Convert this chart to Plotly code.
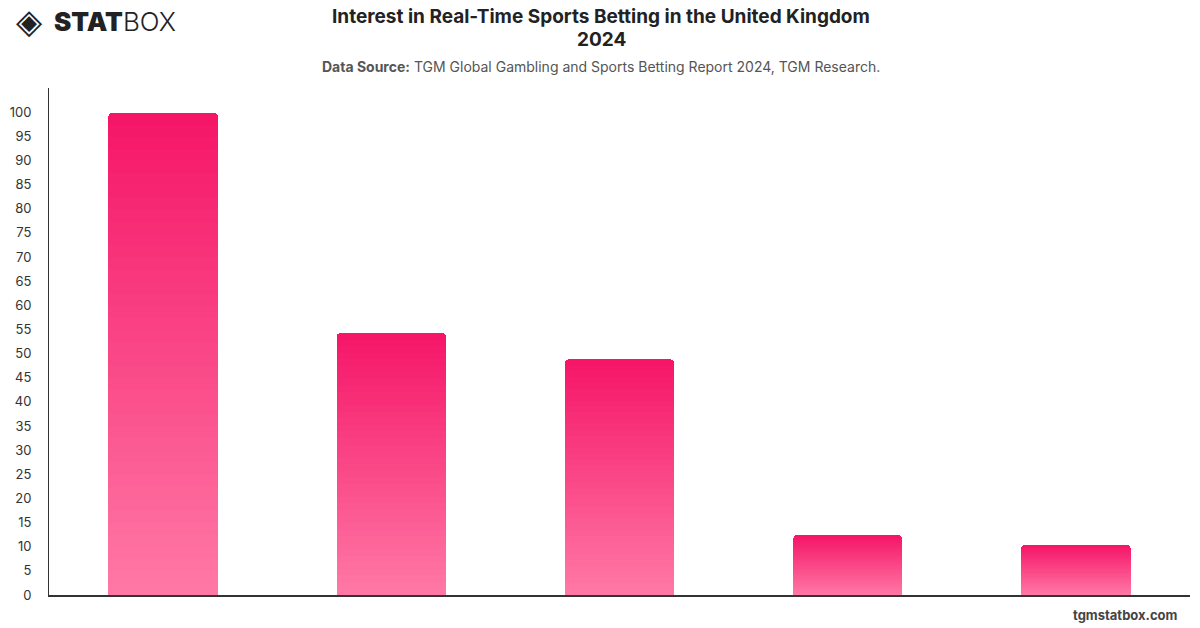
import plotly.graph_objects as go

# ---- data ----
categories = ["Group 1", "Group 2", "Group 3", "Group 4", "Group 5"]
values = [99.8, 54.2, 48.8, 12.4, 10.4]
y_ticks = list(range(0, 101, 5))

TOP = (245, 22, 104)
BOTTOM = (255, 120, 165)
N = 40

fig = go.Figure()
for i in range(N):
    t = i / (N - 1)
    c = tuple(round(BOTTOM[k] + (TOP[k] - BOTTOM[k]) * t) for k in range(3))
    fig.add_trace(go.Bar(
        x=categories,
        y=[v / N for v in values],
        marker=dict(color=f"rgb{c}", line=dict(width=0)),
        showlegend=False,
        hoverinfo="skip",
    ))

L, R, T, B = 47, 10, 88, 33
PW, PH = 1200 - L - R, 628 - T - B


def px(x):
    return (x - L) / PW


def py(y):
    return (628 - B - y) / PH


fig.update_layout(
    width=1200, height=628,
    barmode="stack", bargap=0.52, barcornerradius=4,
    plot_bgcolor="white", paper_bgcolor="white",
    margin=dict(l=L, r=R, t=T, b=B),
    font=dict(family="Inter, Roboto, sans-serif", color="#333"),
    xaxis=dict(
        showticklabels=False, showgrid=False, zeroline=False,
        showline=True, linecolor="#333", linewidth=1.5, ticks="",
    ),
    yaxis=dict(
        range=[0, 105], tickvals=y_ticks, showgrid=False, zeroline=False,
        showline=True, linecolor="#333", linewidth=1, ticks="",
        ticklabelstandoff=14, tickfont=dict(size=13, color="#333"),
    ),
)

title_lines = ["Interest in Real-Time Sports Betting in the United Kingdom", "2024"]
for line, yc in zip(title_lines, [17, 40]):
    fig.add_annotation(
        text=f"<b>{line}</b>", xref="paper", yref="paper",
        x=px(600), y=py(yc), xanchor="center", yanchor="middle", showarrow=False,
        font=dict(size=19, color="#222", family="Inter, sans-serif"),
    )

fig.add_annotation(
    text="<b>Data Source:</b> TGM Global Gambling and Sports Betting Report 2024, TGM Research.",
    xref="paper", yref="paper", x=px(600), y=py(66),
    xanchor="center", yanchor="middle", showarrow=False,
    font=dict(size=14, color="#555"),
)
# logo
fig.add_annotation(
    text="◈", xref="paper", yref="paper", x=px(12), y=py(21),
    xanchor="left", yanchor="middle", showarrow=False,
    font=dict(size=34, color="#222", family="DejaVu Sans, sans-serif"),
)
fig.add_annotation(
    text='<span style="font-weight:900">STAT</span><span style="font-weight:300">BOX</span>',
    xref="paper", yref="paper", x=px(50), y=py(21),
    xanchor="left", yanchor="middle", showarrow=False,
    font=dict(size=26, color="#222", family="Inter, sans-serif"),
)
fig.add_annotation(
    text="<b>tgmstatbox.com</b>",
    xref="paper", yref="paper", x=px(1180), y=py(615),
    xanchor="right", yanchor="middle", showarrow=False,
    font=dict(size=13, color="#444"),
)

fig.write_html("out.html")
